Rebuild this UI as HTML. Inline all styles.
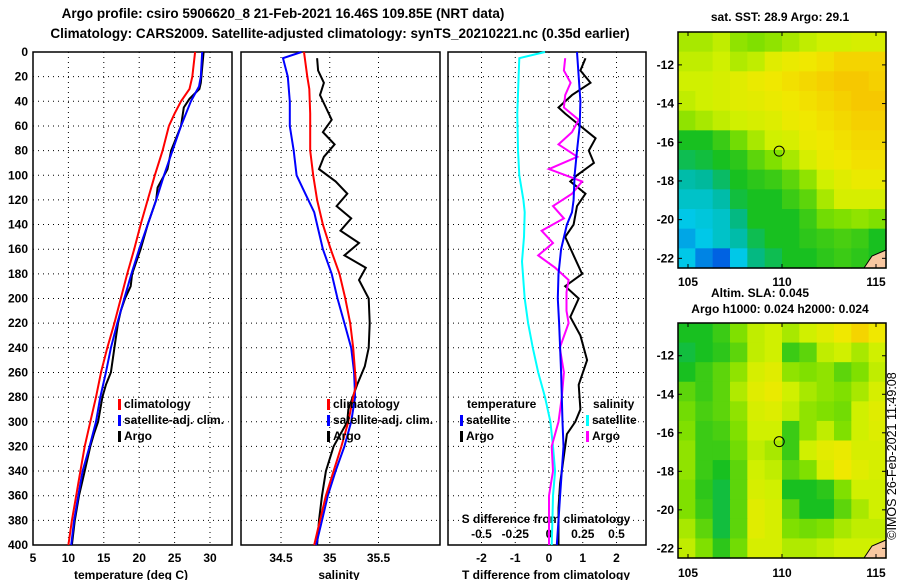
<!DOCTYPE html>
<html><head><meta charset="utf-8"><style>
body{margin:0;background:#fff;}
svg{display:block;font-family:"Liberation Sans",sans-serif;font-weight:bold;}
</style></head><body>
<svg id="fig" width="900" height="580" viewBox="0 0 900 580" xmlns="http://www.w3.org/2000/svg">
<text x="283" y="18" font-size="13.5" text-anchor="middle">Argo profile: csiro 5906620_8 21-Feb-2021 16.46S 109.85E (NRT data)</text>
<text x="340" y="38" font-size="13.5" text-anchor="middle">Climatology: CARS2009. Satellite-adjusted climatology: synTS_20210221.nc (0.35d earlier)</text>
<text x="780" y="21" font-size="12" text-anchor="middle">sat. SST: 28.9 Argo: 29.1</text>
<text x="760" y="297" font-size="12" text-anchor="middle">Altim. SLA: 0.045</text>
<text x="780" y="313" font-size="12" text-anchor="middle">Argo h1000: 0.024 h2000: 0.024</text>
<text transform="translate(896,456) rotate(-90)" font-size="12.5" font-weight="normal" text-anchor="middle">©IMOS 26-Feb-2021 11:49:08</text>
<g id="g"></g>
</svg>
<script>
// ---------- data ----------
const depthsT = [0,20,30,40,50,60,80,100,120,140,160,180,200,220,240,260,280,300,320,340,360,380,400];
const tempClim = [27.9,27.5,27.1,25.9,25.0,24.2,23.3,22.2,21.2,20.2,19.3,18.3,17.4,16.5,15.5,14.6,13.9,13.1,12.3,11.7,11.1,10.5,10.0];
const depthsTS = [0,20,28,40,60,80,100,120,140,160,180,200,220,240,260,280,300,320,340,360,380,400];
const tempSat = [28.9,28.7,28.45,27.3,25.9,24.7,23.5,22.4,21.2,20.0,18.9,17.9,16.9,16.0,15.3,14.5,13.9,13.0,12.0,11.4,10.8,10.4];
const depthsTA = [0,25,30,38,45,60,80,95,110,120,140,160,180,190,200,210,220,240,260,270,280,300,310,320,340,360,380,400];
const tempArgo = [29.1,28.7,28.5,27.1,26.3,25.9,24.5,24.0,22.6,22.4,21.2,20.2,19.0,18.8,18.0,17.4,17.0,16.5,16.0,15.3,14.8,14.2,13.6,13.1,12.3,11.5,10.9,10.5];

const depthsSC = [0,20,30,50,80,100,120,140,160,180,200,220,240,260,270,280,300,320,340,360,380,400];
const salClim = [34.736,34.77,34.79,34.80,34.80,34.83,34.87,34.93,35.01,35.10,35.16,35.21,35.24,35.26,35.27,35.24,35.19,35.12,35.04,34.96,34.90,34.84];
const depthsSS = [0,5,20,40,60,80,100,110,120,130,140,160,180,200,220,240,260,280,300,320,340,360,380,400];
const salSat = [34.71,34.52,34.57,34.59,34.59,34.63,34.66,34.72,34.78,34.84,34.87,34.93,35.02,35.08,35.15,35.22,35.25,35.26,35.22,35.15,35.06,34.98,34.92,34.86];
const depthsSA = [5,15,25,35,45,55,65,75,85,95,105,115,125,135,145,155,165,175,185,200,220,240,255,270,290,300,320,340,360,380,400];
const salArgo = [34.87,34.88,34.94,34.90,34.96,35.02,34.93,35.05,34.94,34.89,35.06,35.18,35.07,35.22,35.11,35.30,35.15,35.37,35.30,35.40,35.41,35.40,35.36,35.28,35.19,35.18,35.04,34.96,34.92,34.89,34.87];

const depthsDS = [0,5,20,50,80,100,120,130,150,170,200,220,240,260,280,300,320,340,360,380,400];
const dSalSat = [-0.03,-0.22,-0.225,-0.235,-0.23,-0.22,-0.19,-0.18,-0.185,-0.2,-0.18,-0.155,-0.12,-0.08,-0.03,0.01,0.03,0.045,0.03,0.025,0.02];
const depthsDT = [0,20,40,60,80,100,120,130,140,160,180,200,220,240,260,280,300,320,340,360,380,400];
const dTempSat = [0.83,0.88,0.93,0.91,0.83,0.76,0.73,0.68,0.53,0.36,0.28,0.26,0.30,0.33,0.36,0.38,0.40,0.43,0.38,0.33,0.28,0.23];
const depthsDTA = [5,15,25,35,45,50,60,70,80,90,100,105,115,125,140,150,165,180,190,200,215,230,250,270,290,300,310,330,350,370,400];
const dTempArgo = [1.08,0.93,1.23,0.68,0.28,0.48,0.93,1.38,1.18,1.33,0.83,0.63,1.08,0.83,0.73,0.48,0.73,0.98,0.48,0.88,0.63,0.93,1.13,0.88,0.93,0.78,0.53,0.43,0.33,0.28,0.28];
const depthsDSA = [5,15,25,35,45,55,65,75,85,95,105,115,125,135,145,155,165,175,185,195,210,220,240,260,280,300,320,340,360,380,400];
const dSalArgo = [0.12,0.11,0.16,0.12,0.11,0.22,0.17,0.07,0.21,0.0,0.245,0.17,0.03,0.11,-0.055,0.03,-0.08,0.045,0.145,0.13,0.13,0.145,0.08,0.11,0.095,0.07,0.02,0.03,0.0,0.0,0.0];

const depthTicks = [0,20,40,60,80,100,120,140,160,180,200,220,240,260,280,300,320,340,360,380,400];
const tempTicks = [5,10,15,20,25,30];
const salTicks = [34.5,35,35.5];
const salTickLabels = ["34.5","35","35.5"];
const dTTicks = [-2,-1,0,1,2];
const dSTicks = [-0.5,-0.25,0,0.25,0.5];
const dSTickLabels = ["-0.5","-0.25","0","0.25","0.5"];
const latTicks = [-12,-14,-16,-18,-20,-22];
const lonTicks = [105,110,115];
const argoLon = 109.85, argoLat = -16.46;

const sstGrid = [
[.65,.65,.68,.62,.6,.62,.65,.68,.7,.7,.72,.72],
[.68,.68,.7,.66,.68,.75,.78,.8,.82,.85,.85,.85],
[.7,.7,.72,.75,.78,.8,.82,.84,.86,.88,.88,.86],
[.68,.7,.72,.75,.76,.78,.8,.82,.84,.86,.88,.88],
[.62,.65,.68,.7,.72,.74,.78,.8,.82,.84,.86,.86],
[.45,.45,.5,.58,.65,.7,.72,.78,.8,.82,.84,.84],
[.4,.42,.45,.48,.55,.6,.65,.72,.78,.8,.82,.82],
[.3,.32,.38,.45,.48,.5,.55,.62,.7,.75,.78,.78],
[.25,.25,.3,.42,.45,.45,.5,.55,.65,.72,.72,.72],
[.2,.22,.25,.35,.45,.45,.45,.5,.58,.6,.62,.6],
[.15,.2,.25,.3,.4,.45,.45,.48,.5,.52,.5,.45],
[.2,.1,.05,.2,.35,.4,.45,.45,.48,.5,.48,.45]];
const slaGrid = [
[.45,.45,.5,.6,.68,.7,.65,.7,.75,.8,.85,.8],
[.42,.45,.48,.55,.68,.7,.5,.55,.68,.7,.65,.7],
[.45,.5,.55,.62,.72,.75,.62,.6,.62,.55,.6,.68],
[.55,.5,.55,.66,.75,.78,.7,.65,.62,.6,.65,.72],
[.58,.52,.55,.62,.72,.74,.68,.62,.6,.58,.7,.75],
[.6,.5,.52,.6,.7,.7,.5,.62,.68,.6,.7,.74],
[.62,.5,.5,.58,.68,.65,.5,.7,.76,.78,.72,.72],
[.62,.5,.45,.55,.7,.68,.55,.6,.72,.8,.75,.72],
[.6,.48,.42,.55,.72,.7,.45,.45,.48,.6,.7,.7],
[.6,.5,.42,.55,.75,.72,.55,.45,.45,.55,.65,.7],
[.65,.55,.42,.55,.75,.72,.6,.58,.6,.65,.68,.68],
[.68,.6,.48,.58,.72,.72,.66,.66,.68,.7,.7,.7]];

// ---------- helpers ----------
const NS="http://www.w3.org/2000/svg";
const G=document.getElementById('g');
function el(tag,attrs,parent){const e=document.createElementNS(NS,tag);for(const k in attrs)e.setAttribute(k,attrs[k]);(parent||G).appendChild(e);return e;}
function txt(s,x,y,size,anchor){const t=el('text',{x:x,y:y,'font-size':size,'text-anchor':anchor||'middle'});t.textContent=s;return t;}

const PY0=52, PY1=545;
const yD = d => PY0 + d*(PY1-PY0)/400;
const panels = [
 {name:'temperature', x0:33,x1:232, xs:v=>33+(v-5)*7.08},
 {name:'salinity', x0:241,x1:440, xs:v=>281+(v-34.5)*97.5},
 {name:'difference', x0:448,x1:646, xs:v=>549+v*33.75}
];
const xS3 = v => 549+v*135;

function gridAndFrame(p, vticks){
  depthTicks.forEach(d=>{
    if(d>0&&d<400){const l=el('line',{x1:p.x0,x2:p.x1,y1:yD(d),y2:yD(d),stroke:'#000','stroke-width':1,'stroke-dasharray':'1,4'});
    
    }
  });
  vticks.forEach(x=>{const l=el('line',{x1:x,x2:x,y1:PY0,y2:PY1,stroke:'#000','stroke-width':1,'stroke-dasharray':'1,4'});
    
    });
  const r=el('rect',{x:p.x0,y:PY0,width:p.x1-p.x0,height:PY1-PY0,fill:'none',stroke:'#000','stroke-width':1.5});
  
  
}
function line(xs,ys,fx,color,name){
  const pts=xs.map((v,i)=>fx(v).toFixed(1)+','+yD(ys[i]).toFixed(1)).join(' ');
  const pl=el('polyline',{points:pts,fill:'none',stroke:color,'stroke-width':2});
  
  
}
function legend(x,y,color,label){
  const m=el('rect',{x:x,y:y-9,width:3,height:11,fill:color});
  
  
  const t=txt(label,x+6,y,12,'start');
  
  
}

// panel 1
const p1=panels[0];
gridAndFrame(p1, tempTicks.map(p1.xs));
depthTicks.forEach(d=>{const t=txt(String(d),28,yD(d)+4,12,'end');
  
  });
tempTicks.forEach(v=>{const t=txt(String(v),p1.xs(v),562,12);
  
  });
let t1=txt('temperature (deg C)',131,579,12);


line(tempArgo,depthsTA,p1.xs,'#000','temperature-argo-line');
line(tempSat,depthsTS,p1.xs,'#0000ff','temperature-satellite-line');
line(tempClim,depthsT,p1.xs,'#ff0000','temperature-climatology-line');
legend(118,408,'#ff0000','climatology');
legend(118,424,'#0000ff','satellite-adj. clim.');
legend(118,440,'#000','Argo');

// panel 2
const p2=panels[1];
gridAndFrame(p2, salTicks.map(p2.xs));
salTicks.forEach((v,i)=>{const t=txt(salTickLabels[i],p2.xs(v),562,12);
  
  });
let t2=txt('salinity',339,579,12);


line(salArgo,depthsSA,p2.xs,'#000','salinity-argo-line');
line(salSat,depthsSS,p2.xs,'#0000ff','salinity-satellite-line');
line(salClim,depthsSC,p2.xs,'#ff0000','salinity-climatology-line');
legend(327,408,'#ff0000','climatology');
legend(327,424,'#0000ff','satellite-adj. clim.');
legend(327,440,'#000','Argo');

// panel 3
const p3=panels[2];
gridAndFrame(p3, dTTicks.map(p3.xs));
dTTicks.forEach(v=>{const t=txt(String(v),p3.xs(v),562,12);
  
  });
dSTicks.forEach((v,i)=>{const t=txt(dSTickLabels[i],xS3(v),538,12);
  
  });
let t3=txt('S difference from climatology',546,523,12);


let t4=txt('T difference from climatology',546,579,12);


line(dSalSat,depthsDS,xS3,'#00ffff','salinity-difference-satellite-line');
line(dTempArgo,depthsDTA,p3.xs,'#000','temperature-difference-argo-line');
line(dSalArgo,depthsDSA,xS3,'#ff00ff','salinity-difference-argo-line');
line(dTempSat,depthsDT,p3.xs,'#0000ff','temperature-difference-satellite-line');
let lt=txt('temperature',467,408,12,'start');


let ls=txt('salinity',593,408,12,'start');


legend(460,424,'#0000ff','satellite');
legend(460,440,'#000','Argo');
legend(586,424,'#00ffff','satellite');
legend(586,440,'#ff00ff','Argo');

// maps
const stops=[[0,[0,64,224]],[0.2,[0,200,232]],[0.33,[0,184,150]],[0.45,[24,192,32]],[0.6,[128,224,0]],[0.7,[208,240,0]],[0.8,[240,232,0]],[0.9,[248,192,0]],[1,[248,150,0]]];
function cmap(v){for(let i=1;i<stops.length;i++){if(v<=stops[i][0]){const a=stops[i-1],b=stops[i];const f=(v-a[0])/(b[0]-a[0]);const c=a[1].map((x,k)=>Math.round(x+(b[1][k]-x)*f));return 'rgb('+c.join(',')+')';}}return 'rgb(248,150,0)';}
function map(grid,y0,y1,name,lonLabelY){
  const x0=678,x1=886;
  const lonX=v=>688+(v-105)*18.8;
  const latY=v=>y0+(-10.3-v)*(y1-y0)/12.2;
  const rows=grid.length, cols=grid[0].length;
  const cw=(x1-x0)/cols, ch=(y1-y0)/rows;
  grid.forEach((row,r)=>row.forEach((v,c)=>{
    const cell=el('rect',{x:(x0+c*cw).toFixed(2),y:(y0+r*ch).toFixed(2),width:(cw+0.6).toFixed(2),height:(ch+0.6).toFixed(2),fill:cmap(v)});
    
    
  }));
  const land=el('path',{d:`M${x1},${y1-18} L${x1-14},${y1-12} L${x1-22},${y1} L${x1},${y1} Z`,fill:'#f8c8a0',stroke:'#000','stroke-width':1});
  
  
  const fr=el('rect',{x:x0,y:y0,width:x1-x0,height:y1-y0,fill:'none',stroke:'#000','stroke-width':1.5});
  
  
  latTicks.forEach(v=>{
    const t=txt(String(v),674,latY(v)+4,12,'end');
    
    
    el('line',{x1:x0,x2:x0+4,y1:latY(v),y2:latY(v),stroke:'#000'});
    el('line',{x1:x1-4,x2:x1,y1:latY(v),y2:latY(v),stroke:'#000'});
  });
  lonTicks.forEach(v=>{
    const t=txt(String(v),lonX(v),lonLabelY,12);
    
    
    el('line',{x1:lonX(v),x2:lonX(v),y1:y0,y2:y0+4,stroke:'#000'});
    el('line',{x1:lonX(v),x2:lonX(v),y1:y1-4,y2:y1,stroke:'#000'});
  });
  const c=el('circle',{cx:lonX(argoLon),cy:latY(argoLat),r:5,fill:'none',stroke:'#000','stroke-width':1});
  
  
}
map(sstGrid,32,268,'sst-map',286);
map(slaGrid,323,558,'sla-map',577);
</script>
</body></html>
